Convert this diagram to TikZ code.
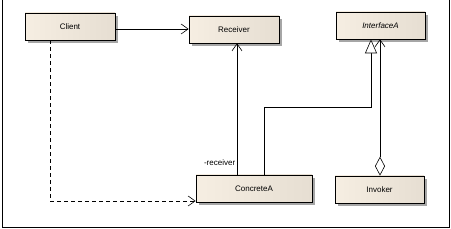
\documentclass[tikz,border=0pt]{standalone}
\usepackage{fontspec}
\setmainfont{Liberation Sans}
\usetikzlibrary{arrows.meta,shapes.geometric,shadows}
\definecolor{boxfill}{HTML}{F6EEE2}
\definecolor{boxfill2}{HTML}{E6DED2}
\tikzset{
  cls/.style={draw=black, line width=0.7pt, rectangle, inner sep=0pt,
    left color=boxfill, right color=boxfill2,
    drop shadow={shadow xshift=3pt, shadow yshift=-3pt, fill=black!35, opacity=1},
    font=\fontsize{8}{9.5}\selectfont},
  conn/.style={draw=black, line width=0.6pt},
  openarr/.style={-{Straight Barb[length=7pt,width=10pt,line width=0.6pt]}},
  genarr/.style={-{Triangle[open,length=14pt,width=12pt,line width=0.6pt,fill=white]}},
  aggarr/.style={{Diamond[open,length=19pt,width=10pt,line width=0.6pt,fill=white]}-{Straight Barb[length=7pt,width=10pt,line width=0.6pt]}},
}
\begin{document}
\begin{tikzpicture}[x=1pt,y=-1pt]
\useasboundingbox (0,0) rectangle (451,229);
\draw[line width=0.8pt] (2,0) -- (2,227) -- (449,227) -- (449,0);
\node[cls, minimum width=90pt, minimum height=27pt] (client) at (70,26.5) {Client};
\node[cls, minimum width=90pt, minimum height=27pt] (recv) at (234,29.5) {Receiver};
\node[cls, minimum width=89pt, minimum height=27pt] (iface) at (380.5,25.5) {\itshape InterfaceA};
\node[cls, minimum width=116pt, minimum height=27pt] (conc) at (254,188.5) {ConcreteA};
\node[cls, minimum width=89pt, minimum height=27pt] (inv) at (379.5,189.5) {Invoker};

\draw[conn, openarr] (client.east |- 0,29) -- (recv.west |- 0,29);
\draw[conn, openarr, dashed, dash pattern=on 4pt off 3pt] (client.south -| 50,0) -- (50,201) -- (conc.west |- 0,201);
\draw[conn, openarr] (conc.north -| 237,0) -- node[pos=0.09, left, font=\fontsize{8}{9.5}\selectfont, inner sep=1.5pt] {-receiver} (recv.south -| 237,0);
\draw[conn, genarr] (conc.north -| 264,0) -- (264,107) -- (371,107) -- (iface.south -| 371,0);
\draw[conn, aggarr] (inv.north -| 380,0) -- (iface.south -| 380,0);
\end{tikzpicture}
\end{document}
